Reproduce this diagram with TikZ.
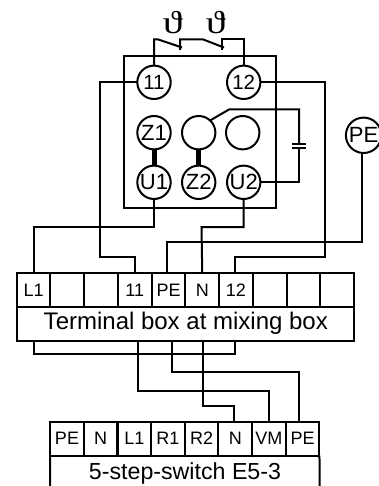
\documentclass[tikz,border=0pt]{standalone}
\usepackage{fontspec}
\setmainfont{Liberation Sans}
\newfontfamily\thetafont{Liberation Serif}
\tikzset{
  wire/.style={line width=2pt,line join=miter},
  ring/.style={circle,draw,line width=2pt,minimum size=33.4pt,inner sep=0pt,outer sep=0pt,font=\fontsize{22}{22}\selectfont},
  numring/.style={ring,font=\fontsize{20.5}{20.5}\selectfont},
  cell/.style={rectangle,draw,line width=2pt,minimum width=33.7pt,minimum height=34pt,inner sep=0pt,outer sep=0pt,font=\fontsize{18}{18}\selectfont},
  banner/.style={rectangle,inner sep=0pt,outer sep=0pt,font=\fontsize{24}{24}\selectfont},
  theta/.style={inner sep=0pt,xscale=1.25,font=\fontsize{32}{32}\thetafont},
  link/.style={line width=5pt}
}
\begin{document}
\begin{tikzpicture}[x=1pt,y=-1pt]
\useasboundingbox (0,0) rectangle (379,486);
% motor housing
\draw[wire] (123.5,55.7) rectangle (276,208);
% temperature switches
\node[theta] (th1) at (172.7,23) {ϑ};
\node[theta] (th2) at (215.7,23) {ϑ};
% circles
\node[numring] (c11) at (154,82.3) {11};
\node[numring] (c12) at (243.7,82.3) {12};
\node[ring] (z1) at (154,132.7) {Z1};
\node[ring] (e1) at (198.7,132.7) {};
\node[ring] (e2) at (242.7,132.7) {};
\node[ring] (u1) at (154,182.3) {U1};
\node[ring] (z2) at (198.7,182.3) {Z2};
\node[ring] (u2) at (243.7,182.3) {U2};
\node[ring,minimum size=35.4pt] (pe) at (363.6,135.3) {PE};
\draw[link] (z1.south) -- (u1.north);
\draw[link] (e1.south) -- (z2.north);
% switch contacts
\coordinate (sa) at (154,39.4);
\coordinate (sb) at (158,39.4);
\coordinate (sc) at (182,47.5);
\coordinate (sd) at (180,39.4);
\coordinate (sdd) at (180,50);
\coordinate (se) at (203,39.4);
\coordinate (sf) at (224,47.5);
\coordinate (sg) at (221.7,39.4);
\coordinate (sgg) at (221.7,50);
\coordinate (sh) at (243.7,39.4);
\draw[wire] (c11.north) -- (sa) -- (sb) -- (sc);
\draw[wire] (sdd) -- (sd) -- (se) -- (sf);
\draw[wire] (sgg) -- (sg) -- (sh) -- (c12.north);
% capacitor
\coordinate (ca) at (229.3,109.3);
\coordinate (cb) at (299,109.3);
\coordinate (cp) at (299,144.3);
\coordinate (cq) at (299,148);
\draw[wire] (e1.47) -- (ca) -- (cb) -- (cp);
\draw[wire] (cq) |- (u2.east);
\draw[line width=1.7pt] ([xshift=-7pt]cp) -- ([xshift=7pt]cp);
\draw[line width=1.7pt] ([xshift=-7pt]cq) -- ([xshift=7pt]cq);
% terminal box
\foreach \n/\t [count=\i from 0] in {t1/L1,t2/,t3/,t4/11,t5/PE,t6/N,t7/12,t8/,t9/,t10/}
  \node[cell] (\n) at (33.6+\i*33.73,290.3) {\t};
\node[rectangle,draw,line width=2pt,minimum width=337.3pt,minimum height=33.4pt,inner sep=0pt,outer sep=0pt] (tb) at (185.3,324) {};
\node[banner] (tbl) at (185.8,323.7) {Terminal box at mixing box};
% switch strip
\foreach \n/\t [count=\i from 0] in {s1/PE,s2/N,s3/L1,s4/R1,s5/R2,s6/N,s7/VM,s8/PE}
  \node[cell] (\n) at (67+\i*33.66,438.7) {\t};
\node[banner,font=\fontsize{23.2}{23.2}\selectfont] (sbl) at (185,473) {5-step-switch E5-3};
\coordinate (bl) at (50.1,490);
\coordinate (br) at (319.7,490);
\draw[wire] (s1.south west) -- (s8.south east);
\draw[wire] (s1.south west) -- (bl);
\draw[wire] (s8.south east) -- (br);
% upper wires
\coordinate (w1) at (33.6,227);
\coordinate (w2) at (100,257.3);
\coordinate (w3) at (201.5,227);
\coordinate (w4) at (325,257.3);
\coordinate (w5) at (362.3,242.3);
\draw[wire] (u1.south) |- (w1) -- (t1.north);
\draw[wire] (c11.west) -| (w2) -| (t4.north);
\draw[wire] (u2.south) |- (w3) -- (t6.north);
\draw[wire] (c12.east) -| (w4) -| ([xshift=-1pt]t7.north);
\draw[wire] ([xshift=-1.3pt]pe.south) -- (w5) -| ([xshift=-1.9pt]t5.north);
% lower wires
\coordinate (v1) at (33.6,354.3);
\coordinate (v2) at (137.6,390.7);
\coordinate (v3) at (171.7,372);
\coordinate (v4) at (203.2,406);
\draw[wire] (t1.south |- tb.south) -- (v1) -| ([xshift=-1pt]t7.south |- tb.south);
\draw[wire] (v2 |- tb.south) -- (v2) -| (s7.north);
\draw[wire] (v3 |- tb.south) -- (v3) -| ([xshift=-3.3pt]s8.north);
\draw[wire] (v4 |- tb.south) -- (v4) -| ([xshift=-1.5pt]s6.north);
\end{tikzpicture}
\end{document}
